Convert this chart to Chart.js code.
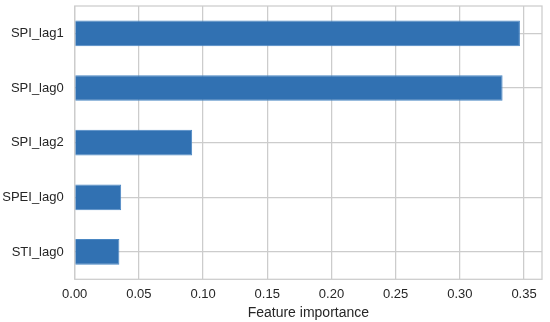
<!DOCTYPE html>
<html>
<head>
<meta charset="utf-8">
<script src="https://cdn.jsdelivr.net/npm/chart.js@4/dist/chart.umd.min.js"></script>
<style>
  html, body { margin: 0; padding: 0; background: #ffffff; }
  #wrap { width: 550px; height: 322px; }
</style>
</head>
<body>
<div id="wrap"><canvas id="main-chart" width="550" height="322"></canvas></div>
<script>
// features, top to bottom as drawn
const features = ["SPI_lag1", "SPI_lag0", "SPI_lag2", "SPEI_lag0", "STI_lag0"];
const importance = [0.3468, 0.3333, 0.0915, 0.0362, 0.0348];
const x_ticks = [0.00, 0.05, 0.10, 0.15, 0.20, 0.25, 0.30, 0.35];

const grid_color = "#cccccc";
const text_color = "#262626";
const font_family = "'Liberation Sans', Arial, sans-serif";

// draws the light gray frame round the plot area
const framePlugin = {
    id: "frame",
    beforeDatasetsDraw(chart) {
        const a = chart.chartArea;
        const ctx = chart.ctx;
        ctx.save();
        ctx.strokeStyle = grid_color;
        ctx.lineWidth = 1.25;
        ctx.strokeRect(a.left, a.top, a.right - a.left, a.bottom - a.top);
        ctx.restore();
    }
};

const config = {
    type: 'bar',
    data: {
        labels: features,
        datasets: [{
            label: 'Feature importance',
            data: importance,
            backgroundColor: "#3171b2",
            borderColor: "#4a87c3",
            borderWidth: 1,
            barPercentage: 0.47,
            categoryPercentage: 1.0
        }]
    },
    options: {
        indexAxis: 'y',
        responsive: false,
        animation: false,
        layout: { padding: { top: 6, right: 8, left: 0, bottom: 0 } },
        plugins: {
            legend: { display: false },
            tooltip: { enabled: false }
        },
        scales: {
            x: {
                min: 0,
                max: 0.364,
                afterFit(scale) {
                    scale.height = 42.7;
                    scale.paddingLeft = 0;
                    scale.paddingRight = 0;
                },
                afterBuildTicks(scale) {
                    scale.ticks = x_ticks.map(v => ({ value: v }));
                },
                ticks: {
                    includeBounds: false,
                    color: text_color,
                    padding: 7,
                    maxRotation: 0,
                    font: { family: font_family, size: 13 },
                    callback: v => Number(v).toFixed(2)
                },
                grid: { color: grid_color, lineWidth: 1.25, drawTicks: false },
                border: { display: false },
                title: {
                    display: true,
                    text: 'Feature importance',
                    color: text_color,
                    padding: { top: 0, bottom: 0 },
                    font: { family: font_family, size: 14 }
                }
            },
            y: {
                afterFit(scale) {
                    scale.width = 74.7;
                    scale.paddingTop = 0;
                    scale.paddingBottom = 0;
                },
                ticks: {
                    color: text_color,
                    padding: 11,
                    font: { family: font_family, size: 13 }
                },
                grid: { color: grid_color, lineWidth: 1.25, offset: false, drawTicks: false },
                border: { display: false }
            }
        }
    },
    plugins: [framePlugin]
};

const myChart = new Chart(document.getElementById("main-chart").getContext('2d'), config);
</script>
</body>
</html>
